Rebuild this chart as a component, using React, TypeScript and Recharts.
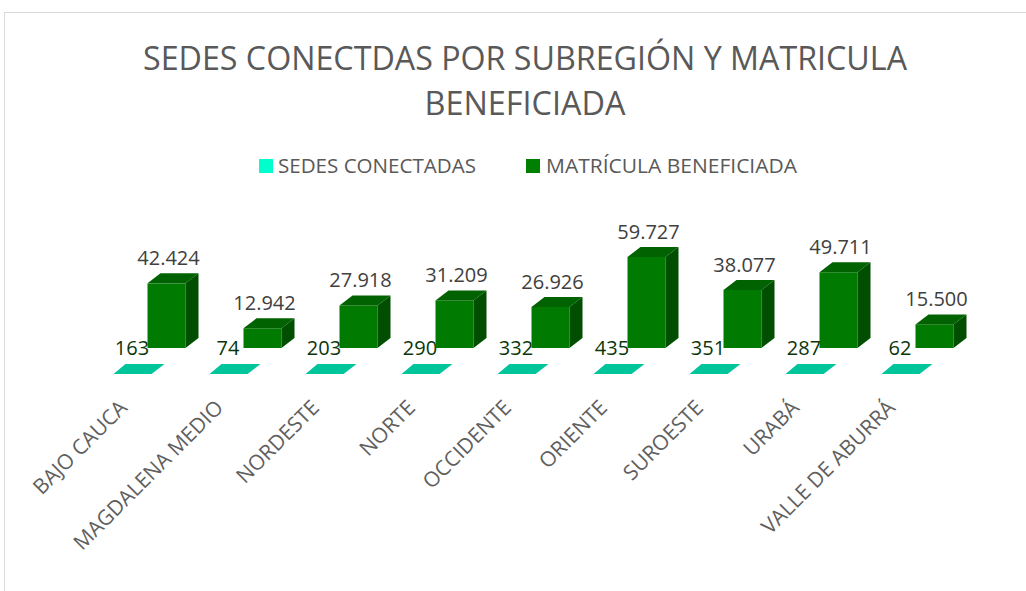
import React from "react";
import { BarChart, Bar, XAxis, YAxis } from "recharts";

const categories = [
  "BAJO CAUCA",
  "MAGDALENA MEDIO",
  "NORDESTE",
  "NORTE",
  "OCCIDENTE",
  "ORIENTE",
  "SUROESTE",
  "URABÁ",
  "VALLE DE ABURRÁ",
];
const sedesConectadas = [163, 74, 203, 290, 332, 435, 351, 287, 62];
const matriculaBeneficiada = [42424, 12942, 27918, 31209, 26926, 59727, 38077, 49711, 15500];

const titleLines = ["SEDES CONECTDAS POR SUBREGIÓN Y MATRICULA", "BENEFICIADA"];
const legendLabels = ["SEDES CONECTADAS", "MATRÍCULA BENEFICIADA"];

const data = categories.map((c, i) => ({
  name: c,
  sedes: sedesConectadas[i],
  matricula: matriculaBeneficiada[i],
}));

const FONT = "'Open Sans', 'Noto Sans', sans-serif";
const fmt = (v: number) => v.toString().replace(/\B(?=(\d{3})+(?!\d))/g, ".");

const DX = 13;
const DY = 10;

const MatriculaShape = (props: any) => {
  const { x, y, width, height, value } = props;
  const base = y + height;
  const w = width;
  return (
    <g>
      <rect x={x} y={y} width={w} height={height} fill="#007A00" />
      <polygon
        points={`${x},${y} ${x + w},${y} ${x + w + DX},${y - DY} ${x + DX},${y - DY}`}
        fill="#006200"
      />
      <polygon
        points={`${x + w},${y} ${x + w + DX},${y - DY} ${x + w + DX},${base - DY} ${x + w},${base}`}
        fill="#004F00"
      />
      <text
        x={x + w / 2 + 2}
        y={y - 18}
        textAnchor="middle"
        fontFamily={FONT}
        fontSize={20}
        fill="#404040"
      >
        {fmt(Array.isArray(value) ? value[1] : value)}
      </text>
    </g>
  );
};

const SedesShape = (props: any) => {
  const { x, y, width, height, value } = props;
  const base = y + height;
  const xs = x + width / 2;
  return (
    <g>
      <polygon
        points={`${xs - 20},${base + 26} ${xs + 18},${base + 26} ${xs + 31},${base + 16} ${xs - 8},${base + 16}`}
        fill="#00C49A"
      />
      <text
        x={xs - 1.5}
        y={base + 7}
        textAnchor="middle"
        fontFamily={FONT}
        fontSize={20}
        fill="#0A360A"
      >
        {fmt(Array.isArray(value) ? value[1] : value)}
      </text>
    </g>
  );
};

const XTick = (props: any) => {
  const { x, y, payload } = props;
  const ex = x - 21;
  const ey = y + 53;
  return (
    <text
      x={ex}
      y={ey}
      textAnchor="end"
      fontFamily={FONT}
      fontSize={21}
      fill="#5f5f5f"
      transform={`rotate(-45, ${ex}, ${ey})`}
    >
      {payload.value}
    </text>
  );
};

export default function App() {
  return (
    <div style={{ position: "absolute", left: 0, top: 0, width: 1026, height: 591, background: "#fff", overflow: "hidden" }}>
      <div
        style={{
          position: "absolute",
          left: 4,
          top: 12,
          width: 1040,
          height: 600,
          border: "1px solid #d9d9d9",
          boxSizing: "border-box",
        }}
      />
      <svg width={1026} height={200} style={{ position: "absolute", left: 0, top: 0 }}>
        <text x={525} y={70} textAnchor="middle" fontFamily={FONT} fontSize={32} fill="#595959" textLength={764} lengthAdjust="spacingAndGlyphs">
          {titleLines[0]}
        </text>
        <text x={525} y={115} textAnchor="middle" fontFamily={FONT} fontSize={32} fill="#595959" textLength={201} lengthAdjust="spacingAndGlyphs">
          {titleLines[1]}
        </text>
        <rect x={259} y={159} width={14} height={14} fill="#00FFCC" />
        <text x={278} y={173} fontFamily={FONT} fontSize={20} fill="#595959" textLength={198} lengthAdjust="spacingAndGlyphs">
          {legendLabels[0]}
        </text>
        <rect x={526} y={159} width={14} height={14} fill="#008000" />
        <text x={546} y={173} fontFamily={FONT} fontSize={20} fill="#595959" textLength={251} lengthAdjust="spacingAndGlyphs">
          {legendLabels[1]}
        </text>
      </svg>
      <div style={{ position: "absolute", left: 0, top: 0 }}>
        <BarChart
          width={1026}
          height={591}
          data={data}
          margin={{ top: 241, right: 60.5, bottom: 213, left: 101.5 }}
          barSize={38}
          barGap={-5}
        >
          <XAxis dataKey="name" height={30} axisLine={false} tickLine={false} interval={0} tick={<XTick />} />
          <YAxis hide domain={[0, 70228]} />
          <Bar dataKey="sedes" isAnimationActive={false} shape={<SedesShape />} />
          <Bar dataKey="matricula" isAnimationActive={false} shape={<MatriculaShape />} />
        </BarChart>
      </div>
    </div>
  );
}
